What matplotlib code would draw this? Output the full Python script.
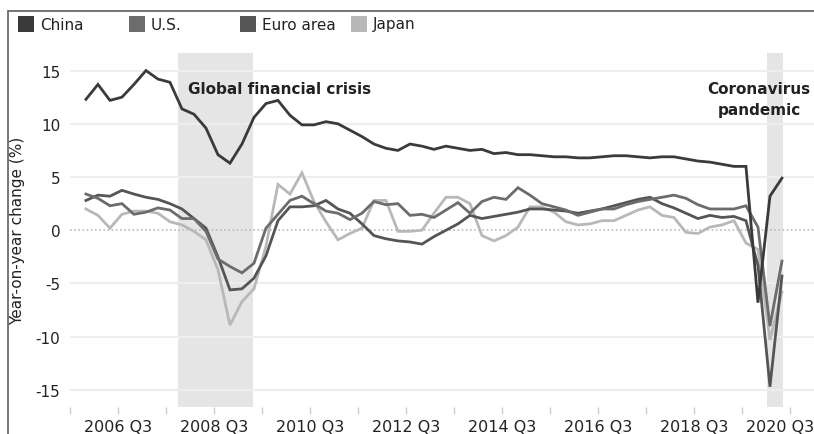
import numpy as np
import matplotlib.pyplot as plt
from matplotlib.patches import Rectangle
from matplotlib.transforms import ScaledTranslation

# year-on-year real GDP change (%), quarterly 2006 Q1 .. 2020 Q3
china = [12.3, 13.7, 12.2, 12.5, 13.7, 15.0, 14.2, 13.9,
         11.4, 10.9, 9.6, 7.1, 6.3, 8.1, 10.6, 11.9,
         12.2, 10.8, 9.9, 9.9, 10.2, 10.0, 9.4, 8.8,
         8.1, 7.7, 7.5, 8.1, 7.9, 7.6, 7.9, 7.7,
         7.5, 7.6, 7.2, 7.3, 7.1, 7.1, 7.0, 6.9,
         6.9, 6.8, 6.8, 6.9, 7.0, 7.0, 6.9, 6.8,
         6.9, 6.9, 6.7, 6.5, 6.4, 6.2, 6.0, 6.0,
         -6.8, 3.2, 4.9]
us = [3.4, 3.0, 2.3, 2.5, 1.5, 1.7, 2.1, 1.9,
      1.1, 1.1, -0.1, -2.7, -3.4, -4.0, -3.1, 0.2,
      1.5, 2.8, 3.2, 2.5, 1.8, 1.6, 1.0, 1.6,
      2.7, 2.4, 2.5, 1.4, 1.5, 1.2, 1.9, 2.6,
      1.6, 2.7, 3.1, 2.9, 4.0, 3.3, 2.5, 2.2,
      1.9, 1.4, 1.7, 2.0, 2.0, 2.4, 2.7, 2.9,
      3.1, 3.3, 3.0, 2.4, 2.0, 2.0, 2.0, 2.3,
      0.3, -9.0, -2.9]
euro = [2.8, 3.3, 3.2, 3.75, 3.4, 3.1, 2.9, 2.5,
        2.0, 1.1, 0.2, -2.5, -5.6, -5.5, -4.5, -2.4,
        0.9, 2.2, 2.2, 2.3, 2.8, 2.0, 1.6, 0.6,
        -0.5, -0.8, -1.0, -1.1, -1.3, -0.6, 0.0, 0.6,
        1.4, 1.1, 1.3, 1.5, 1.7, 2.0, 2.0, 1.9,
        1.8, 1.6, 1.8, 2.0, 2.3, 2.6, 2.9, 3.1,
        2.5, 2.1, 1.6, 1.1, 1.4, 1.2, 1.3, 0.9,
        -3.3, -14.7, -4.3]
japan = [2.0, 1.4, 0.2, 1.5, 1.8, 1.8, 1.6, 0.8,
         0.5, -0.1, -0.9, -3.7, -8.9, -6.7, -5.5, -1.5,
         4.3, 3.4, 5.4, 2.7, 0.8, -0.9, -0.3, 0.2,
         2.8, 2.8, -0.1, -0.1, 0.0, 1.6, 3.1, 3.1,
         2.5, -0.5, -1.0, -0.5, 0.3, 2.2, 2.2, 1.7,
         0.8, 0.5, 0.6, 0.9, 0.9, 1.4, 1.9, 2.2,
         1.4, 1.2, -0.2, -0.3, 0.3, 0.5, 0.9, -1.2,
         -1.8, -10.3, -5.8]

names = ['China', 'U.S.', 'Euro area', 'Japan']
colors = ['#3a3a3a', '#6c6c6c', '#555555', '#b8b8b8']
tick_labels = ['2006 Q3', '2008 Q3', '2010 Q3', '2012 Q3',
               '2014 Q3', '2016 Q3', '2018 Q3', '2020 Q3']

W, H = 814, 435
fig = plt.figure(figsize=(W / 100, H / 100), dpi=100)
ax = fig.add_axes([70 / W, 1 - 408 / H, 744 / W, (408 - 54) / H])

x = np.arange(len(china))
ax.axvspan(7.67, 13.92, color='#e5e5e5', lw=0, zorder=0)
ax.axvspan(56.75, 58.05, color='#e5e5e5', lw=0, zorder=0)

for yv in [-15, -10, -5, 5, 10, 15]:
    ax.axhline(yv, color='#eeeeee', lw=1.5, zorder=0.5)
ax.axhline(0, color='#bbbbbb', lw=1.2, ls=(0, (1, 1.5)), zorder=0.5)

series = [china, us, euro, japan]
for i in [3, 2, 1, 0]:
    ax.plot(x, series[i], color=colors[i], lw=2.0, zorder=3, solid_joinstyle='miter')

ax.set_xlim(-1.33, 60.67)
ax.set_ylim(-16.6, 16.65)
ax.set_yticks([-15, -10, -5, 0, 5, 10, 15])
ax.set_yticklabels(['-15', '-10', '-5', '0', '5', '10', '15'])
ax.set_xticks(2.67 + 8 * np.arange(len(tick_labels)))
ax.set_xticklabels(tick_labels)
ax.set_xticks(-1.33 + 8 * np.arange(8), minor=True)
ax.tick_params(axis='x', which='both', length=5, width=1, color='#cccccc',
               labelsize=11.5, pad=4, labelcolor='#222222')
ax.tick_params(axis='y', length=0, labelsize=11, pad=7, labelcolor='#222222')
for s in ax.spines.values():
    s.set_visible(False)
ax.set_ylabel('Year-on-year change (%)', fontsize=11, color='#222222')
ax.yaxis.set_label_coords(-45 / 744, 0.5)

# last label sits squeezed against the right edge in the original
last = ax.get_xticklabels()[-1]
last.set_transform(last.get_transform() + ScaledTranslation(-0.1, 0, fig.dpi_scale_trans))

fig.text(188 / W, 1 - 90 / H, 'Global financial crisis', fontsize=11,
         fontweight='bold', color='#222222', va='center', ha='left')
fig.text(759 / W, 1 - 100 / H, 'Coronavirus\npandemic', fontsize=11,
         fontweight='bold', color='#222222', va='center', ha='center',
         linespacing=1.45)

# legend across the top
for i, name in enumerate(names):
    x0 = 18 + 111 * i
    fig.add_artist(Rectangle((x0 / W, 1 - 33 / H), 16 / W, 16 / H,
                             facecolor=colors[i], edgecolor='none'))
    fig.text((x0 + 22) / W, 1 - 25 / H, name, fontsize=11, color='#222222',
             va='center', ha='left')

# frame (cut off at the right and bottom)
fig.add_artist(Rectangle((8 / W, -0.2), 1.2, 1.2 - 12 / H, fill=False,
                         edgecolor='#6a6a6a', lw=1.3))

plt.savefig('out.png', dpi=100)
